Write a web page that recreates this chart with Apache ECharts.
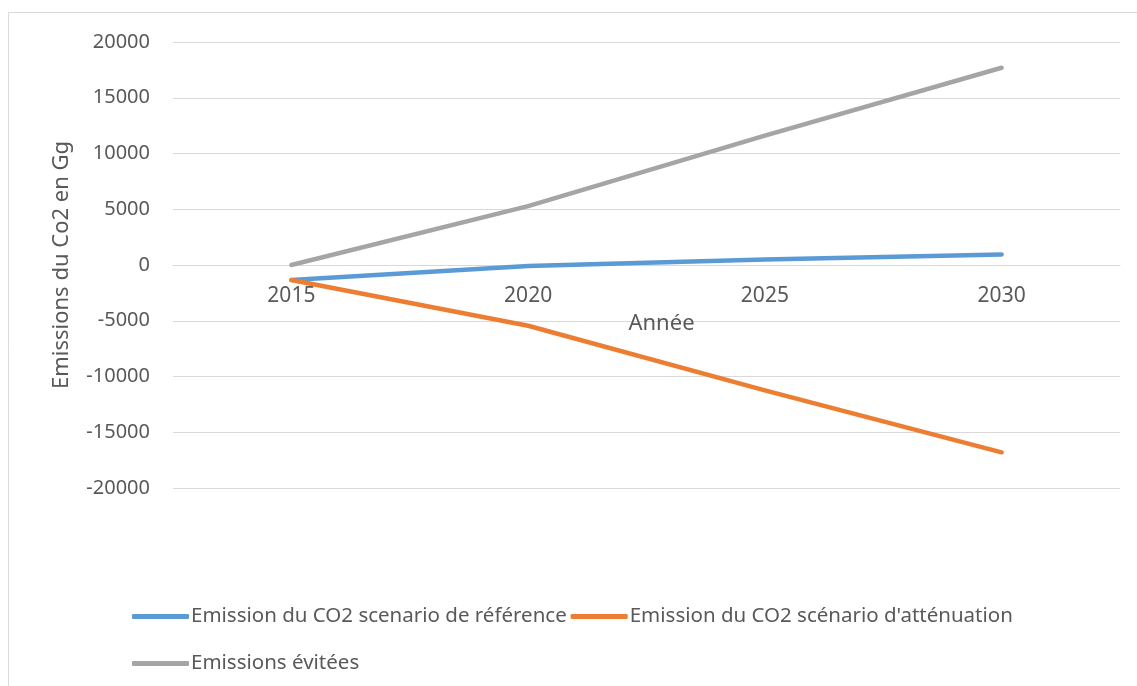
<!DOCTYPE html>
<html>
<head>
<meta charset="utf-8">
<script src="https://cdn.jsdelivr.net/npm/echarts@6/dist/echarts.min.js"></script>
<style>
  html, body { margin: 0; padding: 0; background: #fff; }
  #chart { width: 1137px; height: 686px; }
</style>
</head>
<body>
<div id="chart"></div>
<script>
// Years on the horizontal axis
const years = ['2015', '2020', '2025', '2030'];

// CO2 emissions in Gg
const referenceScenario = [-1350, -100, 500, 950];
const mitigationScenario = [-1350, -5450, -11240, -16800];
const avoidedEmissions = [0, 5280, 11600, 17690];

const seriesNames = [
  'Emission du CO2 scenario de référence',
  "Emission du CO2 scénario d'atténuation",
  'Emissions évitées'
];

const textColor = '#595959';
const fontFamily = '"Noto Sans", "Open Sans", sans-serif';
const colors = ['#5B9BD5', '#ED7D31', '#A5A5A5'];

const gridTop = 42;
const gridBottom = 198;
const yMin = -20000;
const yMax = 20000;

const chart = echarts.init(document.getElementById('chart'));

function lineSeries(name, data, color) {
  return {
    name: name,
    type: 'line',
    data: data,
    symbol: 'none',
    color: color,
    lineStyle: { width: 4.5, color: color, cap: 'round', join: 'round' },
    z: 3
  };
}

const legendCommon = {
  orient: 'horizontal',
  icon: 'roundRect',
  itemWidth: 57,
  itemHeight: 5,
  itemGap: 4,
  textStyle: { color: textColor, fontSize: 20.5, fontFamily: fontFamily, padding: [0, 0, 0, -3] },
  selectedMode: false
};

// Place the category axis on the zero line of the value axis
const plotHeight = 686 - gridTop - gridBottom;
const zeroOffset = -plotHeight * (0 - yMin) / (yMax - yMin);

chart.setOption({
  animation: false,
  backgroundColor: '#fff',
  graphic: [{
    type: 'rect',
    shape: { x: 8.5, y: 12.5, width: 1150, height: 700 },
    style: { fill: 'none', stroke: '#d9d9d9', lineWidth: 1 },
    silent: true,
    z: -10
  }],
  grid: { left: 173, right: 17, top: gridTop, bottom: gridBottom, containLabel: false },
  legend: [
    Object.assign({}, legendCommon, { left: 127, top: 601, data: [seriesNames[0], seriesNames[1]] }),
    Object.assign({}, legendCommon, { left: 127, top: 648, data: [seriesNames[2]] })
  ],
  xAxis: {
    type: 'category',
    data: years,
    boundaryGap: true,
    position: 'bottom',
    offset: zeroOffset,
    name: 'Année',
    nameLocation: 'middle',
    nameGap: 48,
    nameTextStyle: { color: textColor, fontSize: 22, fontFamily: fontFamily, padding: [0, 0, 0, 30] },
    axisLine: { onZero: false, lineStyle: { color: '#d9d9d9', width: 1 } },
    axisTick: { show: false },
    axisLabel: { color: textColor, fontSize: 21, fontFamily: fontFamily, margin: 21 },
    splitLine: { show: false }
  },
  yAxis: {
    type: 'value',
    min: yMin,
    max: yMax,
    interval: 5000,
    name: 'Emissions du Co2 en Gg',
    nameLocation: 'middle',
    nameGap: 100,
    nameTextStyle: { color: textColor, fontSize: 22, fontFamily: fontFamily },
    axisLine: { show: false },
    axisTick: { show: false },
    axisLabel: {
      color: textColor, fontSize: 20, fontFamily: fontFamily, margin: 23,
      formatter: function (v) { return String(v); }
    },
    splitLine: { lineStyle: { color: '#d9d9d9', width: 1 } }
  },
  series: [
    lineSeries(seriesNames[0], referenceScenario, colors[0]),
    lineSeries(seriesNames[1], mitigationScenario, colors[1]),
    lineSeries(seriesNames[2], avoidedEmissions, colors[2])
  ]
});
</script>
</body>
</html>
